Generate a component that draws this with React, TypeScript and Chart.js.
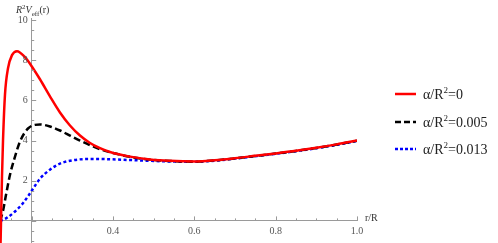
import React, { useEffect, useRef } from "react";
import { Chart, registerables } from "chart.js";
Chart.register(...registerables);

// r/R values and R^2 V_eff(r) for each alpha/R^2
const rRed = [0.1220, 0.1245, 0.1269, 0.1294, 0.1343, 0.1417, 0.1515, 0.1638, 0.1835, 0.2031, 0.2203, 0.2449, 0.2695, 0.2941, 0.3187, 0.3433, 0.3679, 0.3925, 0.4420, 0.4910, 0.5400, 0.6040, 0.6500, 0.7000, 0.7500, 0.8000, 0.8500, 0.9000, 0.9500, 1.0000];
const vRed = [-2.5, 0.0, 2.2, 4.0, 6.3, 7.6, 8.25, 8.45, 8.15, 7.6, 7.05, 6.2, 5.4, 4.75, 4.25, 3.88, 3.62, 3.43, 3.2, 3.06, 2.99, 2.96, 3.02, 3.12, 3.24, 3.36, 3.49, 3.64, 3.81, 4.0];

const rBlack = [0.1220, 0.1294, 0.1368, 0.1466, 0.1589, 0.1712, 0.1909, 0.2203, 0.2449, 0.2695, 0.2941, 0.3187, 0.3433, 0.3679, 0.4000, 0.4420, 0.4910, 0.5400, 0.6040, 0.6500, 0.7000, 0.7500, 0.8000, 0.8500, 0.9000, 0.9500, 1.0000];
const vBlack = [0.0, 0.5, 1.3, 2.3, 3.2, 3.95, 4.6, 4.8, 4.7, 4.5, 4.25, 4.0, 3.77, 3.57, 3.38, 3.19, 3.05, 2.98, 2.95, 3.01, 3.11, 3.23, 3.35, 3.48, 3.63, 3.8, 3.99];

const rBlue = [0.1220, 0.1385, 0.1589, 0.1793, 0.2000, 0.2203, 0.2449, 0.2695, 0.3015, 0.3384, 0.3925, 0.4420, 0.4910, 0.5400, 0.6040, 0.6500, 0.7000, 0.7500, 0.8000, 0.8500, 0.9000, 0.9500, 1.0000];
const vBlue = [0.0, 0.15, 0.47, 0.9, 1.5, 2.1, 2.55, 2.85, 3.02, 3.08, 3.07, 3.03, 2.99, 2.96, 2.94, 3.0, 3.1, 3.22, 3.34, 3.47, 3.62, 3.79, 3.98];

const seriesLabels = ["0", "0.005", "0.013"];
const xTicks = [0.4, 0.6, 0.8, 1.0];
const yTicks = [2, 4, 6, 8, 10];
const xRange = [0.122, 1.0];
const yRange = [-1.1, 10.1];
const xOrigin = 0.2;
const yOrigin = 0;

const AXIS = "#9a9a9a";
const TEXT = "#555";
const FONT = "'Liberation Serif', 'DejaVu Serif', serif";

// Mathematica-style axes: inward ticks (major + minor) and labels outside
const axesDecor = {
  id: "axesDecor",
  afterDraw(chart: any) {
    const { ctx, scales } = chart;
    const xs = scales.x;
    const ys = scales.y;
    const ax = xs.getPixelForValue(xOrigin);
    const ay = ys.getPixelForValue(yOrigin);
    ctx.save();
    ctx.strokeStyle = AXIS;
    ctx.lineWidth = 1;
    ctx.beginPath();
    for (let i = -2; i <= 20; i++) {
      const v = i * 0.5;
      if (v < ys.min || v > ys.max) continue;
      const py = Math.round(ys.getPixelForValue(v)) + 0.5;
      const len = i % 4 === 0 ? 4.5 : 2.5;
      ctx.moveTo(ax, py);
      ctx.lineTo(ax + len, py);
    }
    for (let i = 2; i <= 20; i++) {
      const v = i * 0.05;
      if (v < xs.min || v > xs.max + 1e-9) continue;
      const px = Math.round(xs.getPixelForValue(v)) + 0.5;
      const len = i % 4 === 0 ? 4.5 : 2.5;
      ctx.moveTo(px, ay);
      ctx.lineTo(px, ay - len);
    }
    ctx.stroke();
    ctx.fillStyle = TEXT;
    ctx.font = "10px " + FONT;
    ctx.textAlign = "right";
    ctx.textBaseline = "middle";
    ys.ticks.forEach((t: any) => {
      ctx.fillText(String(t.value), ax - 4, ys.getPixelForValue(t.value));
    });
    ctx.textAlign = "center";
    ctx.textBaseline = "top";
    xs.ticks.forEach((t: any) => {
      ctx.fillText(Number(t.value).toFixed(1), xs.getPixelForValue(t.value), ay + 5);
    });
    ctx.restore();
  },
};

function toPts(r: number[], v: number[]) {
  return r.map((x, i) => ({ x, y: v[i] }));
}

const legendRows = [
  { color: "#ff0000", dash: "", label: seriesLabels[0] },
  { color: "#000000", dash: "6 3", label: seriesLabels[1] },
  { color: "#0000ff", dash: "3 2", label: seriesLabels[2] },
];

export default function App() {
  const ref = useRef<HTMLCanvasElement>(null);
  useEffect(() => {
    if (!ref.current) return;
    const chart = new Chart(ref.current, {
      type: "line",
      data: {
        datasets: [
          {
            label: "α/R²=" + seriesLabels[0],
            data: toPts(rRed, vRed),
            borderColor: "#ff0000",
            borderWidth: 2.5,
            pointRadius: 0,
            cubicInterpolationMode: "monotone",
          },
          {
            label: "α/R²=" + seriesLabels[1],
            data: toPts(rBlack, vBlack),
            borderColor: "#000000",
            borderWidth: 2.5,
            borderDash: [7, 3.5],
            pointRadius: 0,
            cubicInterpolationMode: "monotone",
          },
          {
            label: "α/R²=" + seriesLabels[2],
            data: toPts(rBlue, vBlue),
            borderColor: "#0000ff",
            borderWidth: 2.5,
            borderDash: [3, 2.5],
            pointRadius: 0,
            cubicInterpolationMode: "monotone",
          },
        ],
      },
      options: {
        animation: false,
        responsive: false,
        layout: { padding: { left: 0, top: 18, right: 141, bottom: 0 } },
        plugins: { legend: { display: false }, tooltip: { enabled: false } },
        scales: {
          x: {
            type: "linear",
            min: xRange[0],
            max: xRange[1],
            position: { y: yOrigin } as any,
            grid: { display: false, drawTicks: false },
            border: { display: true, color: AXIS, width: 1 },
            afterBuildTicks: (s: any) => {
              s.ticks = xTicks.map((v) => ({ value: v }));
            },
            afterFit: (s: any) => {
              s.height = 0;
            },
            ticks: { display: false, autoSkip: false },
          },
          y: {
            type: "linear",
            min: yRange[0],
            max: yRange[1],
            position: { x: xOrigin } as any,
            grid: { display: false, drawTicks: false },
            border: { display: true, color: AXIS, width: 1 },
            afterBuildTicks: (s: any) => {
              s.ticks = yTicks.map((v) => ({ value: v }));
            },
            afterFit: (s: any) => {
              s.width = 0;
            },
            ticks: { display: false, autoSkip: false },
          },
        },
      },
      plugins: [axesDecor],
    });
    return () => chart.destroy();
  }, []);

  return (
    <div style={{ position: "absolute", left: 0, top: 0, width: 498, height: 243, background: "#fff", fontFamily: FONT }}>
      <canvas ref={ref} width={498} height={243} style={{ position: "absolute", left: 0, top: 0 }} />
      <div style={{ position: "absolute", left: 16, top: 1, fontSize: 10, color: "#333", whiteSpace: "nowrap", lineHeight: "12px" }}>
        <i>R</i>
        <sup style={{ fontSize: 7 }}>2</sup>
        <i>V</i>
        <sub style={{ fontSize: 7 }}>eff</sub>(r)
      </div>
      <div style={{ position: "absolute", left: 365, top: 212, fontSize: 10, color: "#333", whiteSpace: "nowrap" }}>r/R</div>
      {legendRows.map((row, i) => (
        <div key={i} style={{ position: "absolute", left: 395, top: 85 + i * 27.5, height: 18, display: "flex", alignItems: "center", whiteSpace: "nowrap" }}>
          <svg width={22} height={6} style={{ marginRight: 6 }}>
            <line x1={0} y1={3} x2={21} y2={3} stroke={row.color} strokeWidth={2.5} strokeDasharray={row.dash || undefined} />
          </svg>
          <span style={{ fontSize: 14, color: "#222" }}>
            α/R<sup style={{ fontSize: 9 }}>2</sup>={row.label}
          </span>
        </div>
      ))}
    </div>
  );
}
